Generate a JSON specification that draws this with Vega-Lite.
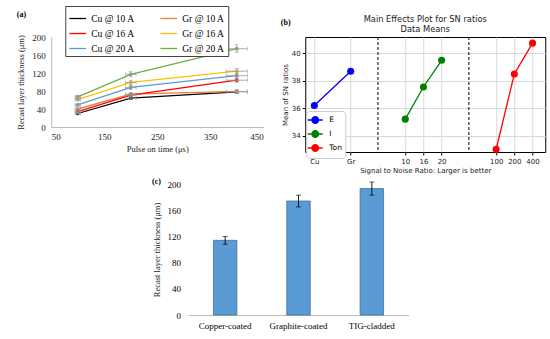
{
  "$schema": "https://vega.github.io/schema/vega-lite/v6.json",
  "background": "white",
  "padding": {"left": 16, "top": 5, "right": 3, "bottom": 2},
  "config": {
    "view": {"stroke": null},
    "font": "Liberation Serif",
    "axis": {"labelFont": "Liberation Serif", "titleFont": "Liberation Serif", "labelColor": "#222", "titleColor": "#222", "titleFontWeight": "normal", "labelOverlap": false, "labelSeparation": 0},
    "legend": {"labelFont": "Liberation Serif"}
  },
  "resolve": {"scale": {"color": "independent", "x": "independent", "y": "independent"}, "legend": {"color": "independent"}},
  "spacing": 4,
  "center": true,
  "vconcat": [
    {
      "spacing": 17,
      "resolve": {"scale": {"color": "independent", "x": "independent", "y": "independent"}, "legend": {"color": "independent"}},
      "hconcat": [
        {
          "width": 212,
          "height": 90,
          "title": {"text": "(a)", "anchor": "start", "frame": "bounds", "fontSize": 8, "fontWeight": "bold", "font": "Liberation Serif", "offset": -13},
          "data": {
            "values": [
              {"series": "Cu @ 10 A", "t": 100, "y": 30, "ye": 1.5, "te": 5},
              {"series": "Cu @ 10 A", "t": 200, "y": 64, "ye": 3.2, "te": 10},
              {"series": "Cu @ 10 A", "t": 400, "y": 78, "ye": 3.9, "te": 20},
              {"series": "Gr @ 10 A", "t": 100, "y": 40, "ye": 2, "te": 5},
              {"series": "Gr @ 10 A", "t": 200, "y": 73, "ye": 3.7, "te": 10},
              {"series": "Gr @ 10 A", "t": 400, "y": 79, "ye": 4, "te": 20},
              {"series": "Cu @ 16 A", "t": 100, "y": 34, "ye": 1.7, "te": 5},
              {"series": "Cu @ 16 A", "t": 200, "y": 71, "ye": 3.6, "te": 10},
              {"series": "Cu @ 16 A", "t": 400, "y": 104, "ye": 5.2, "te": 20},
              {"series": "Gr @ 16 A", "t": 100, "y": 61, "ye": 3, "te": 5},
              {"series": "Gr @ 16 A", "t": 200, "y": 99, "ye": 5, "te": 10},
              {"series": "Gr @ 16 A", "t": 400, "y": 124, "ye": 6.2, "te": 20},
              {"series": "Cu @ 20 A", "t": 100, "y": 49, "ye": 2.5, "te": 5},
              {"series": "Cu @ 20 A", "t": 200, "y": 88, "ye": 4.4, "te": 10},
              {"series": "Cu @ 20 A", "t": 400, "y": 114, "ye": 5.7, "te": 20},
              {"series": "Gr @ 20 A", "t": 100, "y": 67, "ye": 3.4, "te": 5},
              {"series": "Gr @ 20 A", "t": 200, "y": 117, "ye": 5.9, "te": 10},
              {"series": "Gr @ 20 A", "t": 400, "y": 174, "ye": 8.7, "te": 20}
            ]
          },
          "layer": [
            {
              "mark": {"type": "line", "strokeWidth": 1.3, "point": {"filled": true, "size": 14}},
              "encoding": {
                "x": {"field": "t", "type": "quantitative", "scale": {"domain": [50, 450], "nice": false},
                  "axis": {"values": [50, 150, 250, 350, 450], "tickCount": 20, "labelOverlap": false, "title": "Pulse on time (μs)", "grid": false, "ticks": false, "domainColor": "#bbb", "labelFontSize": 9, "titleFontSize": 8.5, "labelPadding": 5, "titlePadding": 3}},
                "y": {"field": "y", "type": "quantitative", "scale": {"domain": [0, 200], "nice": false},
                  "axis": {"values": [0, 40, 80, 120, 160, 200], "tickCount": 20, "labelOverlap": false, "title": "Recast layer thickness (μm)", "grid": false, "ticks": false, "domainColor": "#bbb", "labelFontSize": 9, "titleFontSize": 8.5, "labelPadding": 6, "titlePadding": 6}},
                "color": {"field": "series", "type": "nominal",
                  "scale": {"domain": ["Cu @ 10 A", "Cu @ 16 A", "Cu @ 20 A", "Gr @ 10 A", "Gr @ 16 A", "Gr @ 20 A"],
                            "range": ["#000000", "#FF0000", "#5B9BD5", "#ED7D31", "#FFC000", "#70AD47"]},
                  "legend": {"title": null, "orient": "none", "legendX": 14, "legendY": -31, "columns": 2, "columnPadding": 22, "rowPadding": 1,
                    "strokeColor": "#444", "padding": 3, "fillColor": "white", "symbolType": "stroke", "symbolSize": 280, "symbolStrokeWidth": 1.3,
                    "labelFontSize": 9.5, "labelFont": "Liberation Serif", "labelColor": "#000"}}
              }
            },
            {
              "mark": {"type": "errorbar", "ticks": {"size": 4}, "color": "#999", "thickness": 0.8},
              "encoding": {
                "x": {"field": "t", "type": "quantitative", "title": "Pulse on time (μs)"},
                "y": {"field": "y", "type": "quantitative", "title": "Recast layer thickness (μm)"},
                "yError": {"field": "ye"}
              }
            },
            {
              "mark": {"type": "errorbar", "ticks": {"size": 4}, "color": "#999", "thickness": 0.8},
              "encoding": {
                "y": {"field": "y", "type": "quantitative", "title": "Recast layer thickness (μm)"},
                "x": {"field": "t", "type": "quantitative", "title": "Pulse on time (μs)"},
                "xError": {"field": "te"}
              }
            }
          ]
        },
        {
          "title": {"text": "(b)", "anchor": "start", "frame": "bounds", "fontSize": 8, "fontWeight": "bold", "font": "Liberation Serif", "offset": -12},
          "resolve": {"legend": {"color": "independent"}},
          "vconcat": [
            {
              "width": 240,
              "height": 115,
              "view": {"stroke": "#000", "strokeWidth": 1},
              "title": {"text": ["Main Effects Plot for SN ratios", "Data Means"], "font": "DejaVu Sans", "fontSize": 8.3, "fontWeight": "normal", "lineHeight": 10, "offset": 3, "color": "#222"},
              "layer": [
                {
                  "data": {
                    "values": [
                      {"factor": "E", "level": "Cu", "pos": 0, "sn": 36.2},
                      {"factor": "E", "level": "Gr", "pos": 4, "sn": 38.7},
                      {"factor": "I", "level": "10", "pos": 10, "sn": 35.2},
                      {"factor": "I", "level": "16", "pos": 12, "sn": 37.55},
                      {"factor": "I", "level": "20", "pos": 14, "sn": 39.5},
                      {"factor": "Ton", "level": "100", "pos": 20, "sn": 33.0},
                      {"factor": "Ton", "level": "200", "pos": 22, "sn": 38.5},
                      {"factor": "Ton", "level": "400", "pos": 24, "sn": 40.75}
                    ]
                  },
                  "mark": {"type": "line", "strokeWidth": 1.3, "point": {"filled": true, "size": 50}},
                  "encoding": {
                    "x": {"field": "pos", "type": "quantitative", "scale": {"domain": [-1, 25.4], "nice": false, "zero": false},
                      "axis": {"values": [0, 4, 10, 12, 14, 20, 22, 24], "tickCount": 20, "labelOverlap": false,
                        "labelExpr": "datum.value == 0 ? 'Cu' : datum.value == 4 ? 'Gr' : datum.value == 10 ? '10' : datum.value == 12 ? '16' : datum.value == 14 ? '20' : datum.value == 20 ? '100' : datum.value == 22 ? '200' : '400'",
                        "title": "Signal to Noise Ratio: Larger is better", "grid": true, "gridColor": "#d8d8d8", "domain": false, "tickColor": "#000", "tickSize": 3,
                        "labelFont": "DejaVu Sans", "titleFont": "DejaVu Sans", "labelFontSize": 7, "titleFontSize": 7, "labelPadding": 2, "titlePadding": 2, "labelColor": "#222", "titleColor": "#222"}},
                    "y": {"field": "sn", "type": "quantitative", "scale": {"domain": [32.8, 41.2], "nice": false, "zero": false},
                      "axis": {"values": [34, 36, 38, 40], "format": "d", "tickCount": 20, "labelOverlap": false, "title": "Mean of SN ratios", "grid": true, "gridColor": "#d8d8d8", "domain": false, "tickColor": "#000", "tickSize": 3,
                        "labelFont": "DejaVu Sans", "titleFont": "DejaVu Sans", "labelFontSize": 7, "titleFontSize": 7, "labelPadding": 2, "titlePadding": 3, "labelColor": "#222", "titleColor": "#222"}},
                    "color": {"field": "factor", "type": "nominal", "scale": {"domain": ["E", "I", "Ton"], "range": ["#0000FF", "#008000", "#FF0000"]},
                      "legend": {"title": null, "orient": "none", "legendX": 1, "legendY": 74, "strokeColor": "#ccc", "cornerRadius": 3, "fillColor": "white", "padding": 3,
                        "symbolType": "M-1.5,0L1.5,0M0.65,0A0.65,0.65,0,1,1,-0.65,0A0.65,0.65,0,1,1,0.65,0Z", "symbolSize": 100, "symbolStrokeWidth": 1.5,
                        "labelFont": "DejaVu Sans", "labelFontSize": 7.5, "labelColor": "#000", "rowPadding": 0, "labelOffset": 8,
                        "encode": {"symbols": {"update": {"fill": {"signal": "datum.value == 'E' ? '#0000FF' : datum.value == 'I' ? '#008000' : '#FF0000'"}, "fillOpacity": {"value": 1}}}}}}
                  }
                },
                {
                  "data": {"values": [{"sep": 7}, {"sep": 17}]},
                  "mark": {"type": "rule", "strokeDash": [3, 2], "color": "#000", "strokeWidth": 1},
                  "encoding": {"x": {"field": "sep", "type": "quantitative"}}
                }
              ]
            }
          ]
        }
      ]
    },
    {
      "width": 220,
      "height": 131,
      "title": {"text": "(c)", "anchor": "start", "frame": "bounds", "fontSize": 8, "fontWeight": "bold", "font": "Liberation Serif", "offset": -6},
      "data": {
        "values": [
          {"coating": "Copper-coated", "thickness": 114, "err": 6},
          {"coating": "Graphite-coated", "thickness": 174, "err": 9},
          {"coating": "TIG-cladded", "thickness": 193, "err": 10}
        ]
      },
      "layer": [
        {
          "mark": {"type": "bar", "color": "#5B9BD5", "stroke": "#41719C", "strokeWidth": 0.8},
          "encoding": {
            "x": {"field": "coating", "type": "nominal", "sort": null, "scale": {"paddingInner": 0.68, "paddingOuter": 0.34},
              "axis": {"title": null, "labelAngle": 0, "ticks": false, "domainColor": "#bbb", "labelFontSize": 9, "labelColor": "#000", "labelPadding": 6}},
            "y": {"field": "thickness", "type": "quantitative", "scale": {"domain": [0, 200], "nice": false},
              "axis": {"values": [0, 40, 80, 120, 160, 200], "tickCount": 20, "labelOverlap": false, "title": "Recast layer thickness (μm)", "grid": false, "ticks": false, "domain": false, "labelFontSize": 9, "titleFontSize": 8.5, "labelPadding": 8, "titlePadding": 6, "labelColor": "#000"}}
          }
        },
        {
          "mark": {"type": "errorbar", "ticks": {"size": 5}, "color": "#000", "thickness": 0.9},
          "encoding": {
            "x": {"field": "coating", "type": "nominal", "sort": null, "title": null},
            "y": {"field": "thickness", "type": "quantitative", "title": "Recast layer thickness (μm)"},
            "yError": {"field": "err"}
          }
        }
      ]
    }
  ]
}
